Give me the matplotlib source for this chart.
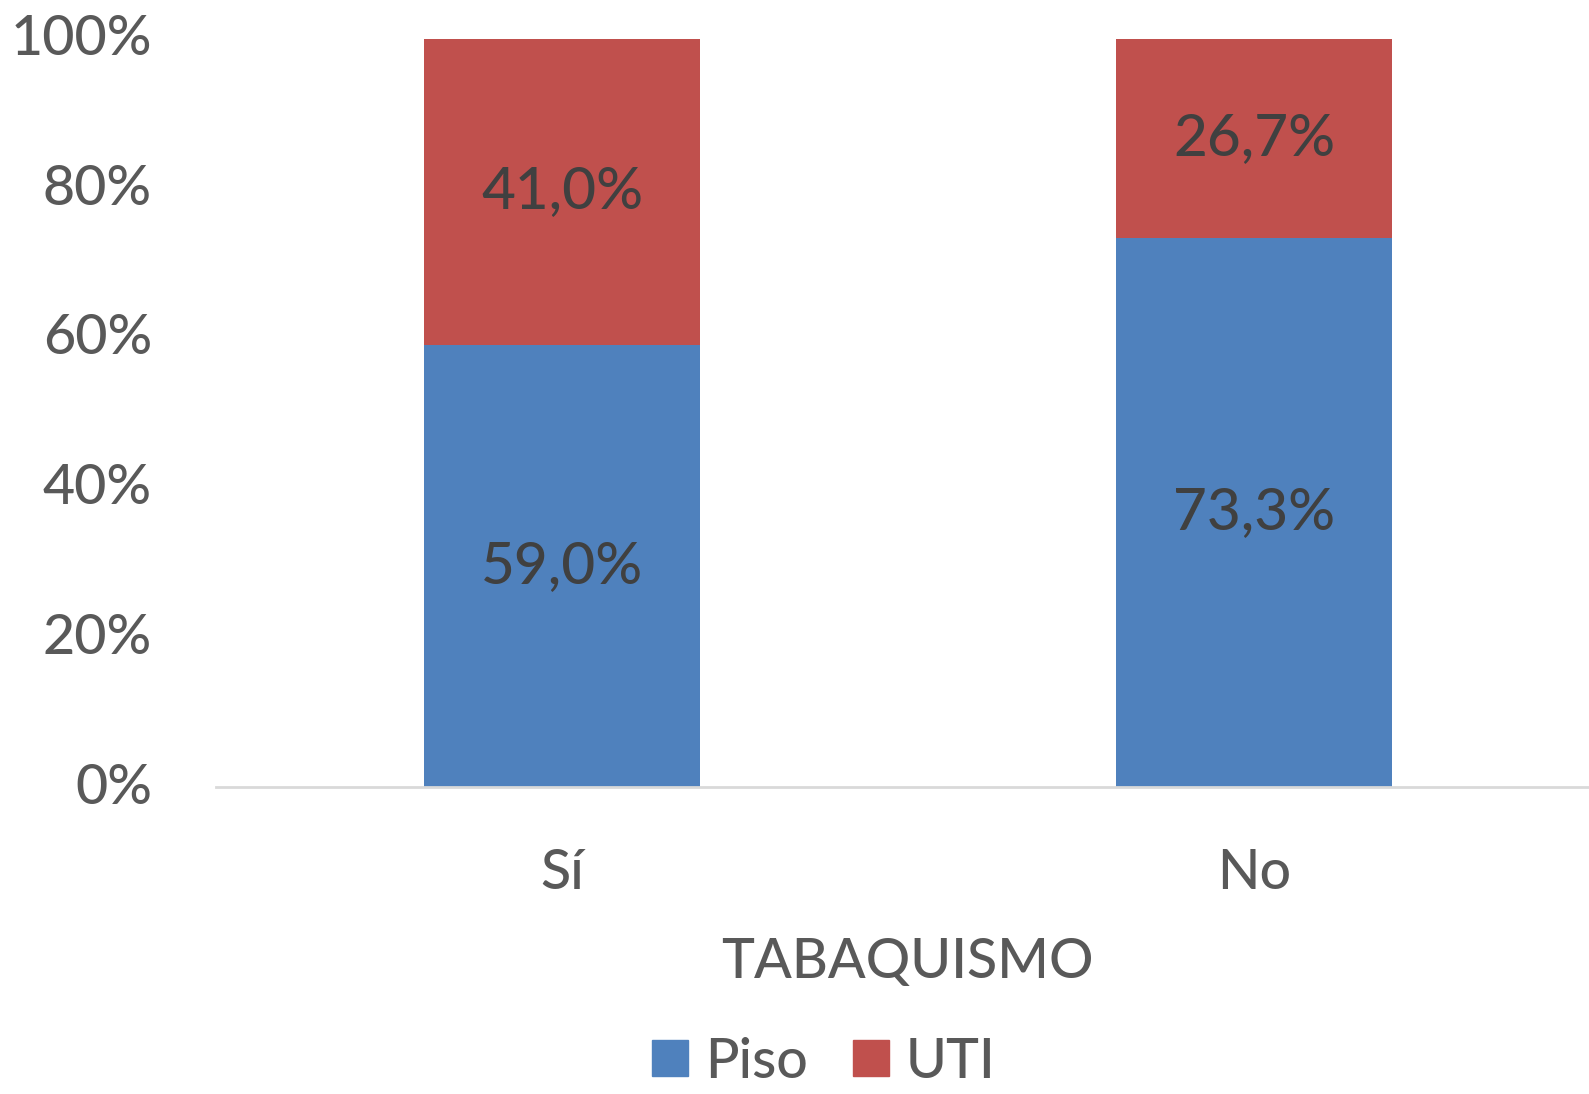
import matplotlib
matplotlib.use("Agg")
import matplotlib.pyplot as plt
from matplotlib.patches import Patch
from matplotlib.transforms import ScaledTranslation

categories = ["Sí", "No"]
piso = [59.0, 73.3]
uti = [41.0, 26.7]
yticks = [0, 20, 40, 60, 80, 100]
series_names = ["Piso", "UTI"]
axis_title = "TABAQUISMO"

BLUE = "#4F81BD"
RED = "#C0504D"
TICK_COLOR = "#595959"
LABEL_COLOR = "#404040"

plt.rcParams["font.family"] = ["Lato", "DejaVu Sans"]
plt.rcParams["font.weight"] = 500

W, H = 1589, 1094
fig = plt.figure(figsize=(W / 100, H / 100), dpi=100)
left, right = 216 / W, 1600 / W
bottom, top = 1 - 787 / H, 1 - 38.5 / H
ax = fig.add_axes([left, bottom, right - left, top - bottom])

x = list(range(len(categories)))
width = 0.4
ax.bar(x, piso, width, color=BLUE, label=series_names[0], zorder=2)
ax.bar(x, uti, width, bottom=piso, color=RED, label=series_names[1], zorder=2)

for xi, p, u in zip(x, piso, uti):
    ax.text(xi, p / 2, f"{p:.1f}%".replace(".", ","), ha="center", va="center",
            fontsize=42, color=LABEL_COLOR)
    ax.text(xi, p + u / 2, f"{u:.1f}%".replace(".", ","), ha="center", va="center",
            fontsize=42, color=LABEL_COLOR)

ax.set_xlim(-0.5, 1.5)
ax.set_ylim(0, 100)
ax.set_yticks(yticks)
ax.set_yticklabels([f"{t}%" for t in yticks])
ax.set_xticks(x)
ax.set_xticklabels(categories)
ax.tick_params(axis="y", length=0, pad=46, labelsize=40, labelcolor=TICK_COLOR)
ax.tick_params(axis="x", length=0, pad=44, labelsize=40, labelcolor=TICK_COLOR)

# nudge y tick labels slightly upward
shift = ScaledTranslation(0, 4 / 100, fig.dpi_scale_trans)
for lbl in ax.get_yticklabels():
    lbl.set_transform(lbl.get_transform() + shift)

for s in ["top", "right", "left"]:
    ax.spines[s].set_visible(False)
ax.spines["bottom"].set_color("#D9D9D9")
ax.spines["bottom"].set_linewidth(2)

fig.text(907 / W, 1 - 962 / H, axis_title, ha="center", va="center",
         fontsize=40, color=TICK_COLOR)

handles = [Patch(color=BLUE), Patch(color=RED)]
fig.legend(handles, series_names, loc="center", bbox_to_anchor=(824 / W, 1 - 1062 / H),
           ncol=2, frameon=False, fontsize=40, labelcolor=TICK_COLOR,
           handlelength=0.64, handleheight=0.64, handletextpad=0.31,
           columnspacing=0.82, borderpad=0.1)

fig.savefig("out.png", dpi=100, facecolor="white")
